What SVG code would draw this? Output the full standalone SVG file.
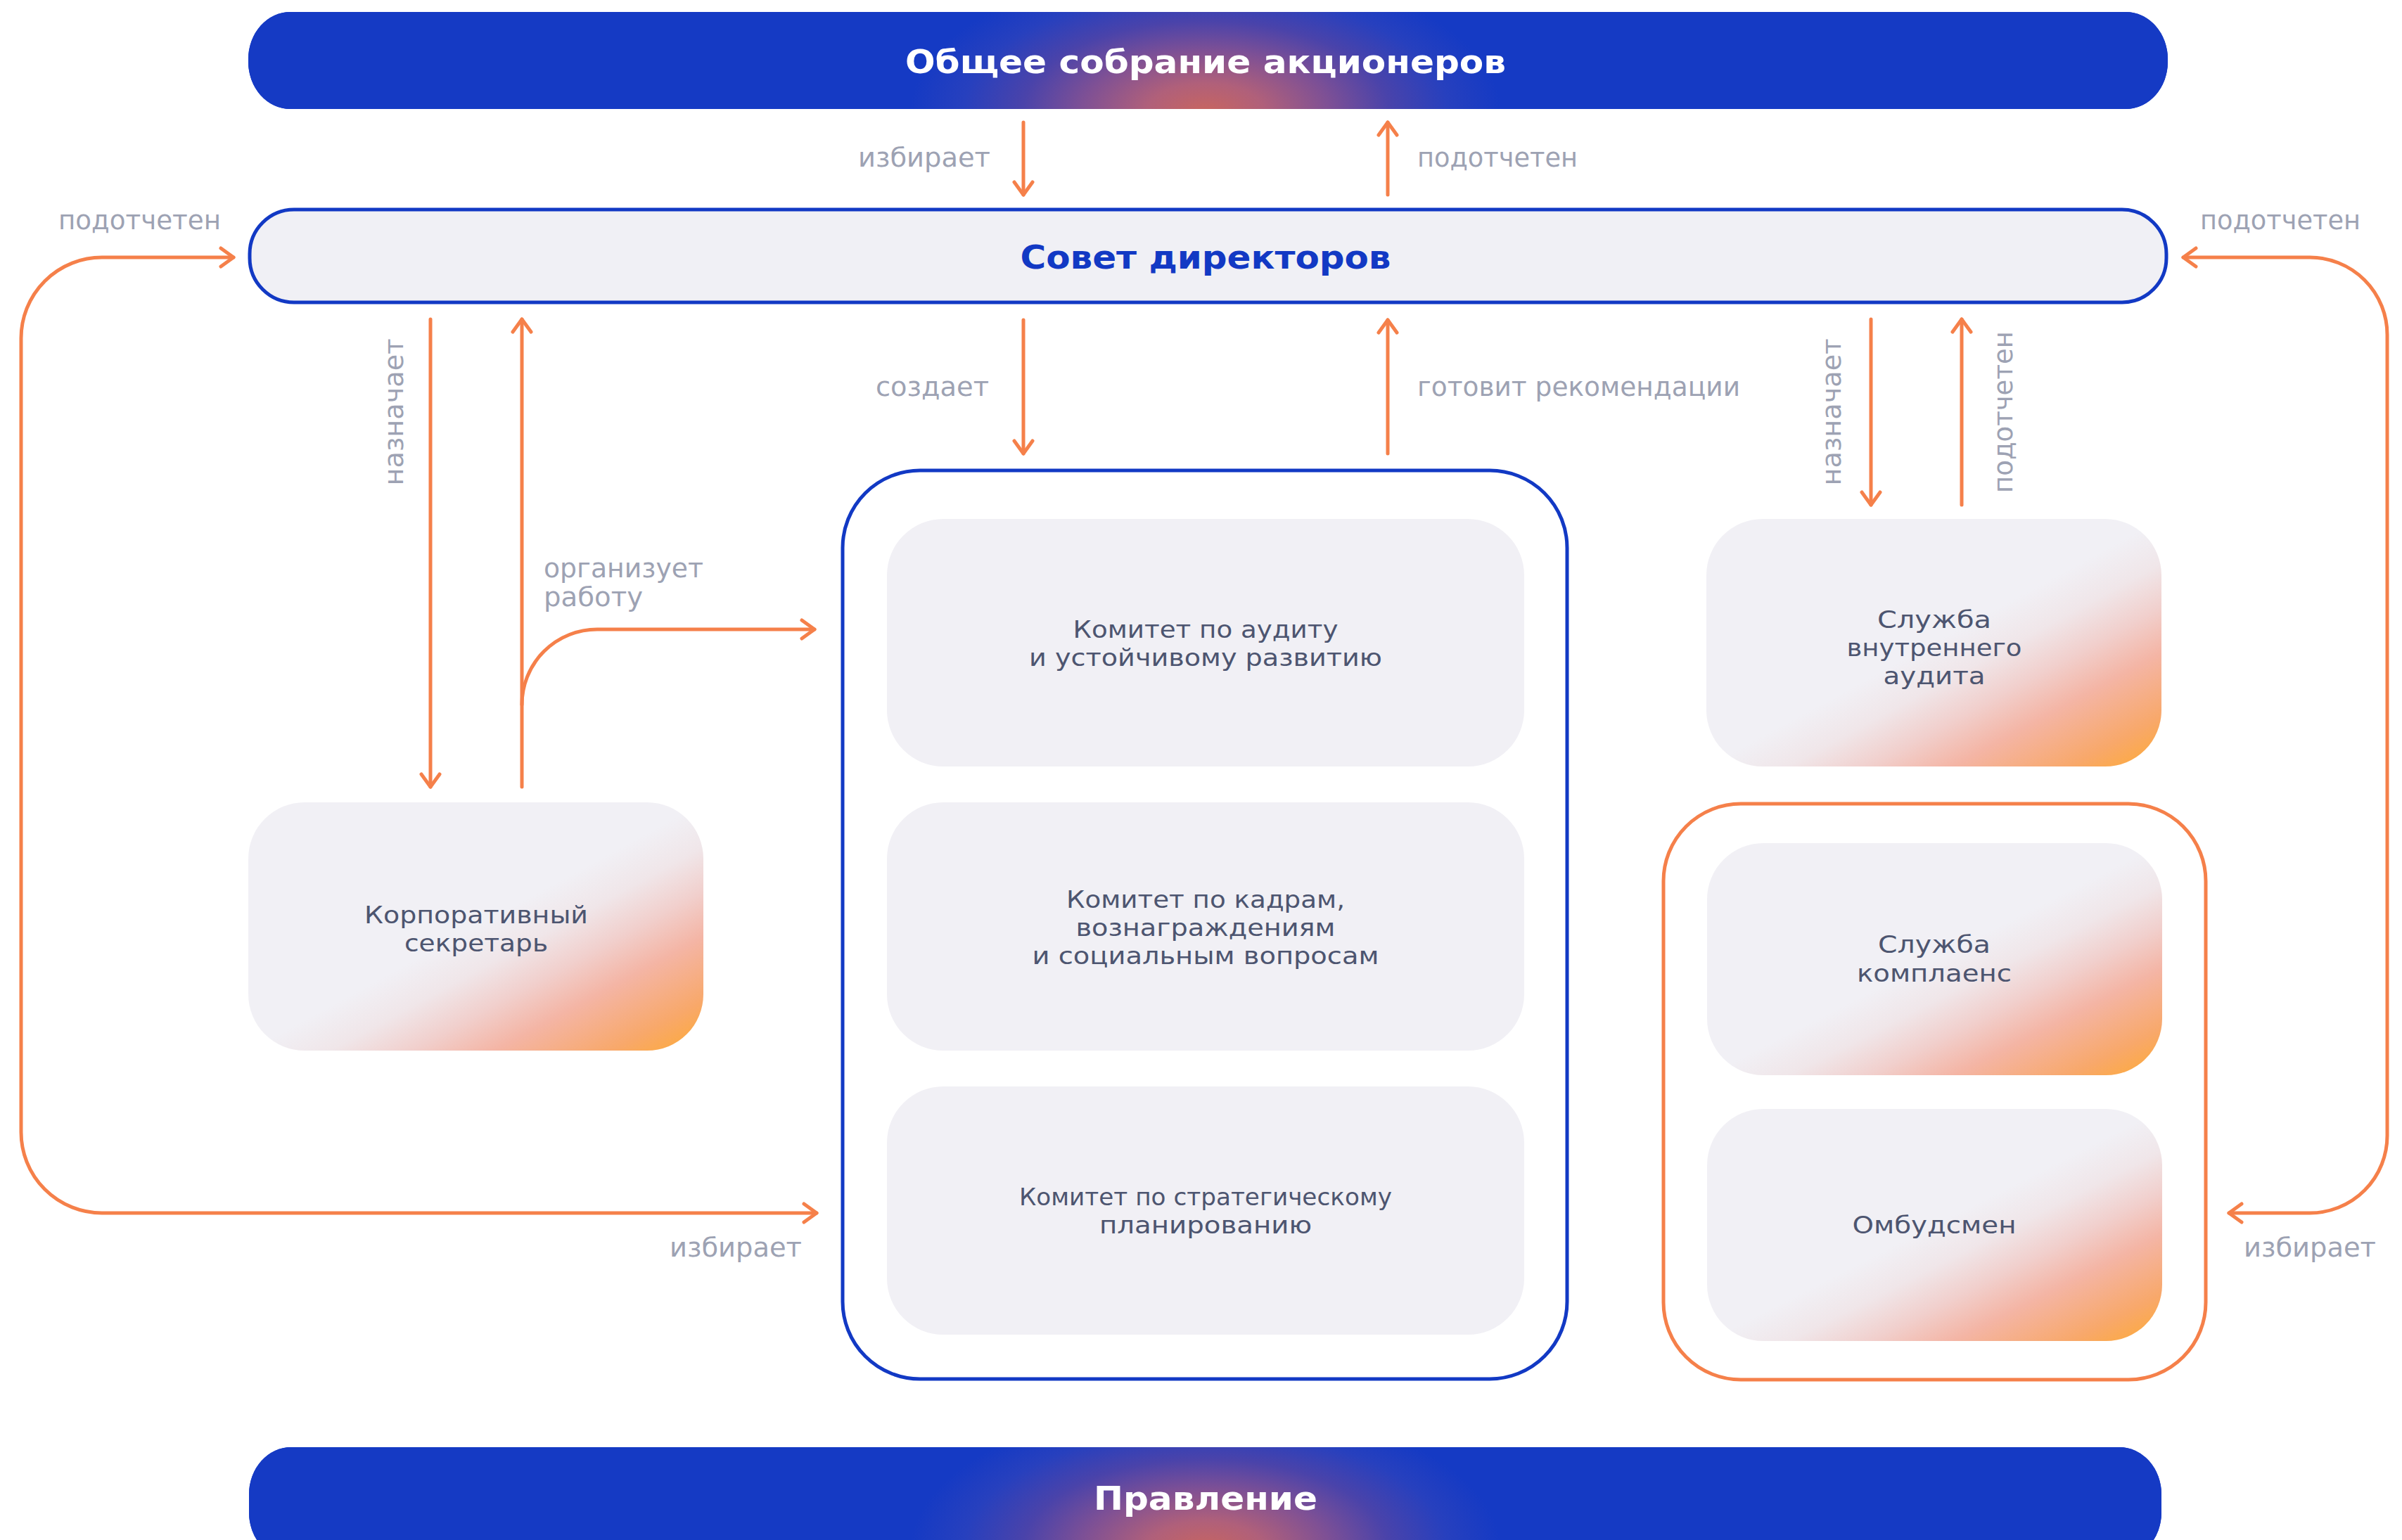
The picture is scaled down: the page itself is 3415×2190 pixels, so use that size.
<svg xmlns="http://www.w3.org/2000/svg" width="3415" height="2190" viewBox="0 0 3415 2190">
<style>
.lbl{font-family:"DejaVu Sans","Liberation Sans",sans-serif;font-size:37px;fill:#9DA2B3}
.nt{font-family:"DejaVu Sans","Liberation Sans",sans-serif;font-size:34px;fill:#4D5570;text-anchor:middle}
.ttl{font-family:"DejaVu Sans","Liberation Sans",sans-serif;font-size:46px;font-weight:bold;text-anchor:middle}
.conn{fill:none;stroke:#F5804A;stroke-width:5;stroke-linecap:round}
.box{fill:#F1F0F5}
.gbox{fill:url(#warm)}
</style>
<defs>
<marker id="ah" markerUnits="userSpaceOnUse" viewBox="-25 -20 30 40" refX="0" refY="0" markerWidth="30" markerHeight="40" orient="auto-start-reverse">
<path d="M-18,-13 L0,0 L-18,13" fill="none" stroke="#F5804A" stroke-width="5" stroke-linecap="round" stroke-linejoin="round"/>
</marker>
<linearGradient id="warm" x1="1" y1="1" x2="0" y2="0">
<stop offset="0" stop-color="#FEAB34"/>
<stop offset="0.1" stop-color="#F8A86A"/>
<stop offset="0.23" stop-color="#F4B5A5"/>
<stop offset="0.32" stop-color="#F1CFCC"/>
<stop offset="0.41" stop-color="#F0E6E9"/>
<stop offset="0.5" stop-color="#F1F0F5"/>
<stop offset="1" stop-color="#F1F0F5"/>
</linearGradient>
<radialGradient id="glowTop" gradientUnits="userSpaceOnUse" cx="1714" cy="160" r="420" gradientTransform="translate(1714 160) scale(1 0.5) translate(-1714 -160)">
<stop offset="0" stop-color="#C8655F"/>
<stop offset="0.2" stop-color="#B0607A"/>
<stop offset="0.42" stop-color="#7E5095"/>
<stop offset="0.62" stop-color="#4A43AA"/>
<stop offset="0.82" stop-color="#2740BE"/>
<stop offset="1" stop-color="#153AC4"/>
</radialGradient>
<radialGradient id="glowBot" gradientUnits="userSpaceOnUse" cx="1714" cy="2205" r="420" gradientTransform="translate(1714 2205) scale(1 0.5) translate(-1714 -2205)">
<stop offset="0" stop-color="#C8655F"/>
<stop offset="0.2" stop-color="#B0607A"/>
<stop offset="0.42" stop-color="#7E5095"/>
<stop offset="0.62" stop-color="#4A43AA"/>
<stop offset="0.82" stop-color="#2740BE"/>
<stop offset="1" stop-color="#153AC4"/>
</radialGradient>
</defs>
<rect width="3415" height="2190" fill="#FFFFFF"/>

<g id="connectors">
<path class="conn" d="M1455,174 V277" marker-end="url(#ah)"/>
<path class="conn" d="M1973,277 V174" marker-end="url(#ah)"/>
<path class="conn" d="M332,366 H145 A115,115 0 0 0 30,481 V1610 A115,115 0 0 0 145,1725 H1161" marker-start="url(#ah)" marker-end="url(#ah)"/>
<path class="conn" d="M3104,366 H3284 A110,110 0 0 1 3394,476 V1615 A110,110 0 0 1 3284,1725 H3169" marker-start="url(#ah)" marker-end="url(#ah)"/>
<path class="conn" d="M612,454 V1119" marker-end="url(#ah)"/>
<path class="conn" d="M742,1119 V454" marker-end="url(#ah)"/>
<path class="conn" d="M742,1002 A107,107 0 0 1 849,895 H1158" marker-end="url(#ah)"/>
<path class="conn" d="M1455,455 V645" marker-end="url(#ah)"/>
<path class="conn" d="M1973,645 V455" marker-end="url(#ah)"/>
<path class="conn" d="M2660,454 V718" marker-end="url(#ah)"/>
<path class="conn" d="M2789,718 V454" marker-end="url(#ah)"/>
</g>

<g id="connector-labels">
<text class="lbl" x="1220" y="237" textLength="188" lengthAdjust="spacingAndGlyphs">избирает</text>
<text class="lbl" x="2015" y="237" textLength="228" lengthAdjust="spacingAndGlyphs">подотчетен</text>
<text class="lbl" x="83" y="326" textLength="231" lengthAdjust="spacingAndGlyphs">подотчетен</text>
<text class="lbl" x="3128" y="326" textLength="228" lengthAdjust="spacingAndGlyphs">подотчетен</text>
<text class="lbl" x="1245" y="563" textLength="161" lengthAdjust="spacingAndGlyphs">создает</text>
<text class="lbl" x="2015" y="563" textLength="459" lengthAdjust="spacingAndGlyphs">готовит рекомендации</text>
<text class="lbl" x="773" y="821" textLength="227" lengthAdjust="spacingAndGlyphs">организует</text>
<text class="lbl" x="773" y="862" textLength="141" lengthAdjust="spacingAndGlyphs">работу</text>
<text class="lbl" x="952" y="1787" textLength="188" lengthAdjust="spacingAndGlyphs">избирает</text>
<text class="lbl" x="3190" y="1787" textLength="188" lengthAdjust="spacingAndGlyphs">избирает</text>
<text class="lbl" transform="translate(573 586) rotate(-90)" text-anchor="middle" textLength="209" lengthAdjust="spacingAndGlyphs">назначает</text>
<text class="lbl" transform="translate(2617 586) rotate(-90)" text-anchor="middle" textLength="209" lengthAdjust="spacingAndGlyphs">назначает</text>
<text class="lbl" transform="translate(2861 586) rotate(-90)" text-anchor="middle" textLength="230" lengthAdjust="spacingAndGlyphs">подотчетен</text>
</g>

<g id="shareholders">
<rect x="353" y="17" width="2729" height="138" rx="60" ry="67" fill="#153AC4"/>
<rect x="353" y="17" width="2729" height="138" rx="60" ry="67" fill="url(#glowTop)"/>
<text class="ttl" x="1714" y="104" fill="#FFFFFF" textLength="854" lengthAdjust="spacingAndGlyphs">Общее собрание акционеров</text>
</g>

<g id="board">
<rect x="355" y="298" width="2725" height="132" rx="63" ry="63" fill="#F0F0F5" stroke="#1239C4" stroke-width="5"/>
<text class="ttl" x="1714" y="382" fill="#1239C4" textLength="527" lengthAdjust="spacingAndGlyphs">Совет директоров</text>
</g>

<g id="corp-secretary">
<rect class="gbox" x="353" y="1141" width="647" height="353" rx="80" ry="80"/>
<text class="nt" x="677" y="1313" textLength="318" lengthAdjust="spacingAndGlyphs">Корпоративный</text>
<text class="nt" x="677" y="1353" textLength="204" lengthAdjust="spacingAndGlyphs">секретарь</text>
</g>

<g id="committees">
<rect x="1198" y="669" width="1030" height="1292" rx="110" ry="110" fill="#FFFFFF" stroke="#1239C4" stroke-width="5"/>
</g>

<g id="committee-audit">
<rect class="box" x="1261" y="738" width="906" height="352" rx="80" ry="80"/>
<text class="nt" x="1714" y="907" textLength="377" lengthAdjust="spacingAndGlyphs">Комитет по аудиту</text>
<text class="nt" x="1714" y="947" textLength="502" lengthAdjust="spacingAndGlyphs">и устойчивому развитию</text>
</g>

<g id="committee-hr">
<rect class="box" x="1261" y="1141" width="906" height="353" rx="80" ry="80"/>
<text class="nt" x="1714" y="1291" textLength="396" lengthAdjust="spacingAndGlyphs">Комитет по кадрам,</text>
<text class="nt" x="1714" y="1331" textLength="369" lengthAdjust="spacingAndGlyphs">вознаграждениям</text>
<text class="nt" x="1714" y="1371" textLength="493" lengthAdjust="spacingAndGlyphs">и социальным вопросам</text>
</g>

<g id="committee-strategy">
<rect class="box" x="1261" y="1545" width="906" height="353" rx="80" ry="80"/>
<text class="nt" x="1714" y="1714" textLength="530" lengthAdjust="spacingAndGlyphs">Комитет по стратегическому</text>
<text class="nt" x="1714" y="1754" textLength="302" lengthAdjust="spacingAndGlyphs">планированию</text>
</g>

<g id="internal-audit">
<rect class="gbox" x="2426" y="738" width="647" height="352" rx="80" ry="80"/>
<text class="nt" x="2750" y="893" textLength="162" lengthAdjust="spacingAndGlyphs">Служба</text>
<text class="nt" x="2750" y="933" textLength="249" lengthAdjust="spacingAndGlyphs">внутреннего</text>
<text class="nt" x="2750" y="973" textLength="145" lengthAdjust="spacingAndGlyphs">аудита</text>
</g>

<g id="compliance-group">
<rect x="2365" y="1143" width="771" height="819" rx="110" ry="110" fill="#FFFFFF" stroke="#F5804A" stroke-width="5"/>
</g>

<g id="compliance">
<rect class="gbox" x="2427" y="1199" width="647" height="330" rx="80" ry="80"/>
<text class="nt" x="2750" y="1355" textLength="160" lengthAdjust="spacingAndGlyphs">Служба</text>
<text class="nt" x="2750" y="1396" textLength="220" lengthAdjust="spacingAndGlyphs">комплаенс</text>
</g>

<g id="ombudsman">
<rect class="gbox" x="2427" y="1577" width="647" height="330" rx="80" ry="80"/>
<text class="nt" x="2750" y="1754" textLength="233" lengthAdjust="spacingAndGlyphs">Омбудсмен</text>
</g>

<g id="management">
<rect x="354" y="2058" width="2719" height="160" rx="60" ry="67" fill="#153AC4"/>
<rect x="354" y="2058" width="2719" height="160" rx="60" ry="67" fill="url(#glowBot)"/>
<text class="ttl" x="1714" y="2147" fill="#FFFFFF" textLength="318" lengthAdjust="spacingAndGlyphs">Правление</text>
</g>
</svg>
